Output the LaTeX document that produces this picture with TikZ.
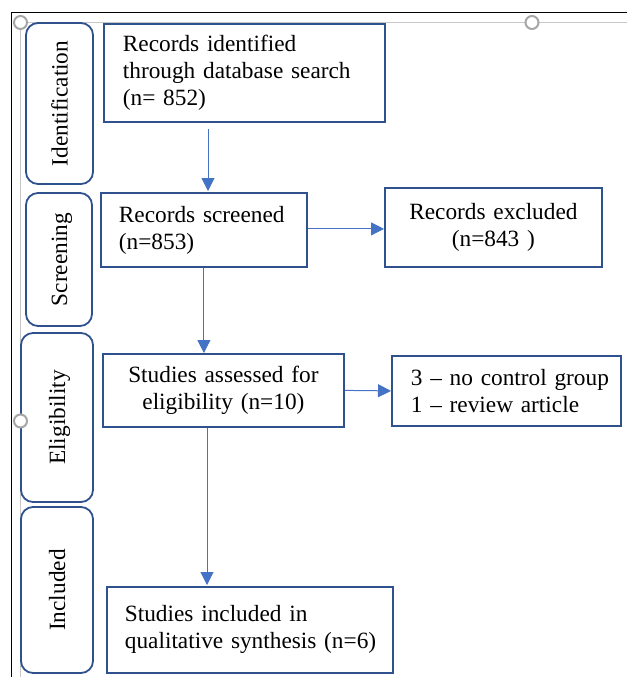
\documentclass[tikz,border=0pt]{standalone}
\usepackage{fontspec}
\setmainfont{Liberation Serif}
\usetikzlibrary{arrows.meta,calc}
\definecolor{boxblue}{HTML}{2F528F}
\definecolor{arrblue}{HTML}{4472C4}
\definecolor{handlegray}{HTML}{A6A6A6}
\definecolor{guidegray}{HTML}{C8C8C8}
\begin{document}
\begin{tikzpicture}[x=1pt,y=-1pt,
  every node/.style={font=\fontsize{23.3}{27}\selectfont},
  mainbox/.style={draw=boxblue,line width=1.8pt,rectangle,inner ysep=0pt,fill=white},
  sidebox/.style={draw=boxblue,line width=1.8pt,rounded corners=12pt,rotate=90,
    inner sep=0pt,text height=16pt,text depth=0pt,fill=white},
  arr/.style={draw=arrblue,line width=1pt,-{Triangle[length=13pt,width=13pt]}},
  handle/.style={circle,draw=handlegray,line width=2pt,fill=white,minimum size=13pt,inner sep=0pt}]
\useasboundingbox (0,0) rectangle (627,677);
% frame lines
\draw[black,line width=1pt] (11,677) -- (11,13) -- (627,13);
\draw[guidegray,line width=1.5pt] (20.5,677) -- (20.5,22.5) -- (627,22.5);
% side labels
\node[sidebox,minimum width=161pt,minimum height=67pt] (sid) at (59.5,103.5) {Identification};
\node[sidebox,minimum width=133pt,minimum height=66pt] (sscr) at (59,259.5) {Screening};
\node[sidebox,minimum width=169pt,minimum height=72pt] (selig) at (57,417.5) {Eligibility};
\node[sidebox,minimum width=166pt,minimum height=72pt] (sinc) at (57,590) {Included};
% handles
\node[handle] (h1) at (20.5,22.5) {};
\node[handle] (h2) at (532,22.5) {};
\node[handle] (h3) at (20.5,421) {};
% main boxes
\node[mainbox,align=left,inner xsep=19pt,text width=243pt,minimum height=98pt,anchor=north west] (b1) at (103,23)
  {\mbox{Records identified}\\\mbox{through database search}\\\mbox{(n= 852)}};
\node[mainbox,align=left,inner xsep=18pt,text width=170pt,minimum height=74pt,anchor=north west] (b2) at (100,192)
  {\mbox{Records screened}\\\mbox{(n=853)}};
\node[mainbox,align=center,inner xsep=0pt,text width=217pt,minimum height=79pt,anchor=north west] (ex1) at (384,187)
  {Records excluded\\(n=843 )};
\node[mainbox,align=center,inner xsep=0pt,text width=241pt,minimum height=73pt,anchor=north west] (b3) at (102,353)
  {\raisebox{-2pt}{Studies assessed for}\\\raisebox{-2pt}{eligibility (n=10)}};
\node[mainbox,align=left,inner xsep=19pt,text width=191pt,minimum height=70pt,anchor=north west] (ex2) at (391,355)
  {\mbox{3 – no control group}\\\mbox{1 – review article}};
\node[mainbox,align=left,inner xsep=18pt,text width=250pt,minimum height=86pt,anchor=north west] (b4) at (106,586)
  {\mbox{Studies included in}\\\mbox{qualitative synthesis (n=6)}};
% connectors
\draw[arr] ($(b1.south west)+(105,6)$) -- ($(b2.north west)+(108,-1)$);
\draw[arr] ($(b2.east)+(0,-1)$) -- ($(ex1.west)+(0,1.5)$);
\draw[arr] (b2.south) -- (b2.south |- b3.north);
\draw[arr] (b3.east) -- (ex2.west);
\draw[arr] ($(b3.south west)+(105,0)$) -- ($(b4.north west)+(101,-1)$);
\end{tikzpicture}
\end{document}
